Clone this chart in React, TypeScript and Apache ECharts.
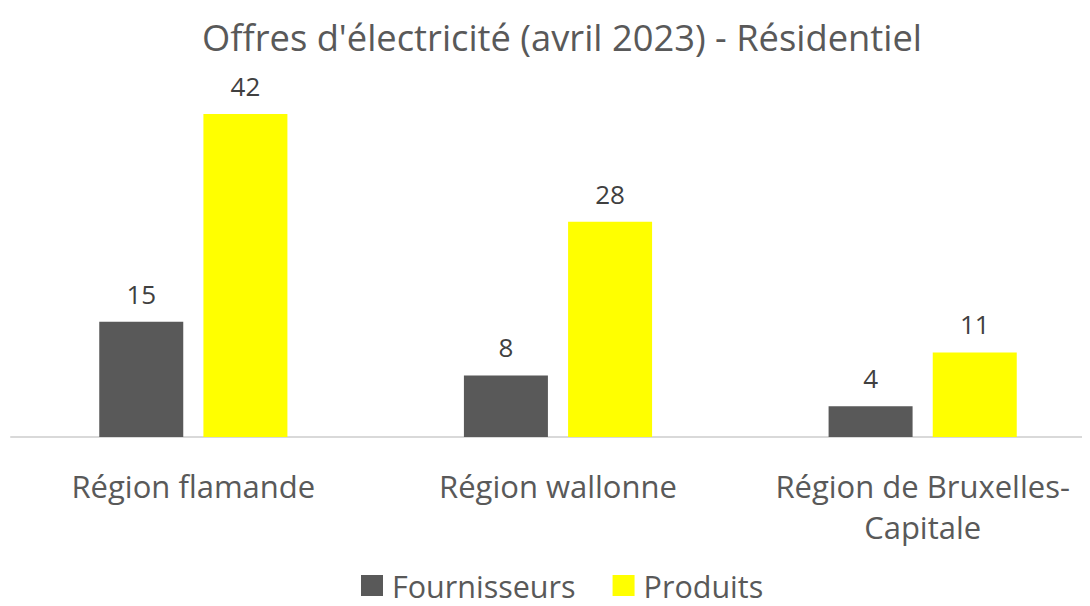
import React, { useEffect, useRef } from "react";
import * as echarts from "echarts";

const categories = ["Région flamande", "Région wallonne", "Région de Bruxelles-\nCapitale"];
const fournisseurs = [15, 8, 4];
const produits = [42, 28, 11];
const seriesNames = ["Fournisseurs", "Produits"];

const FONT = "'Open Sans', sans-serif";

export default function App() {
  const ref = useRef<HTMLDivElement>(null);
  useEffect(() => {
    if (!ref.current) return;
    const chart = echarts.init(ref.current, undefined, { renderer: "svg" });
    chart.setOption({
      animation: false,
      title: {
        text: "Offres d'électricité (avril 2023) - Résidentiel",
        left: 557,
        textAlign: "center",
        top: 14,
        textStyle: { fontFamily: FONT, fontSize: 36.3, fontWeight: "normal", color: "#595959" },
      },
      legend: {
        top: 570,
        left: 361,
        padding: 0,
        itemWidth: 22,
        itemHeight: 21,
        itemGap: 37,
        icon: "rect",
        textStyle: { fontFamily: FONT, fontSize: 30.5, color: "#595959", padding: [0, 0, 0, 4] },
        data: seriesNames,
      },
      grid: { left: 11, right: 5, top: 114, bottom: 169, containLabel: false },
      xAxis: {
        type: "category",
        data: categories,
        axisTick: { show: false },
        axisLine: { lineStyle: { color: "#d9d9d9", width: 2 } },
        axisLabel: {
          fontFamily: FONT,
          fontSize: 31,
          color: "#595959",
          margin: 28,
          lineHeight: 41,
          interval: 0,
        },
      },
      yAxis: {
        type: "value",
        min: 0,
        max: 42,
        show: false,
        splitLine: { show: false },
      },
      series: [
        {
          name: seriesNames[0],
          type: "bar",
          data: fournisseurs,
          barWidth: 84,
          barGap: "24%",
          itemStyle: { color: "#595959" },
          label: { show: true, position: "top", distance: 15, fontFamily: FONT, fontSize: 26, color: "#404040" },
        },
        {
          name: seriesNames[1],
          type: "bar",
          data: produits,
          barWidth: 84,
          barGap: "24%",
          itemStyle: { color: "#ffff00" },
          label: { show: true, position: "top", distance: 15, fontFamily: FONT, fontSize: 26, color: "#404040" },
        },
      ],
    });
    return () => chart.dispose();
  }, []);
  return (
    <div style={{ width: 1090, height: 606, margin: -8, overflow: "hidden", position: "relative" }}>
      <div ref={ref} style={{ width: 1110, height: 606 }} />
    </div>
  );
}
